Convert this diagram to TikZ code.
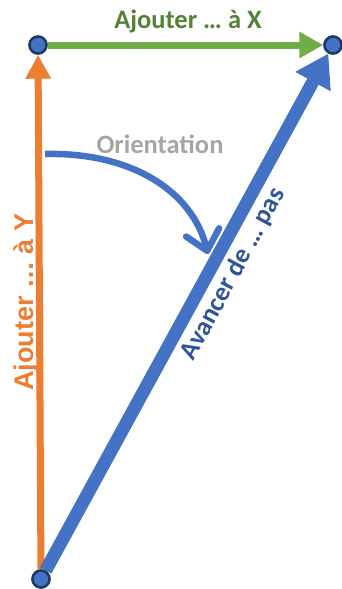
\documentclass[tikz,border=0pt]{standalone}
\usepackage{fontspec}
\setmainfont{Carlito}
\newfontfamily\arialfont{Liberation Sans}
\usetikzlibrary{arrows.meta}
\definecolor{cblue}{HTML}{4472C4}
\definecolor{cdblue}{HTML}{2F5597}
\definecolor{cnavy}{HTML}{1F3864}
\definecolor{cgreen}{HTML}{70AD47}
\definecolor{cdgreen}{HTML}{548235}
\definecolor{corange}{HTML}{ED7D31}
\definecolor{cgray}{HTML}{A5A5A5}
\tikzset{
  dot/.style={circle, fill=cblue, draw=cnavy, line width=2.4pt, minimum size=17pt, inner sep=0pt},
  lbl/.style={font=\fontsize{26.5}{30}\selectfont\bfseries, inner sep=0pt, anchor=base},
}
\begin{document}
\begin{tikzpicture}[x=1pt,y=-1pt]
\useasboundingbox (0,0) rectangle (341,589);
\node[dot] (A) at (41,579) {};
\node[dot] (B) at (38,45) {};
\node[dot] (C) at (333,45) {};
\coordinate (o1) at (45,154);
\coordinate (o2) at (208,254);
% lines
\draw[corange, line width=7pt, -{Triangle[length=24pt,width=24pt]}] (A) -- (B);
\draw[cgreen, line width=7pt, -{Triangle[length=24pt,width=25pt]}] (B) -- (C);
\draw[cblue, line width=13pt, -{Triangle[length=32pt,width=38pt]}] (A) -- (C);
\draw[cblue, line width=6.5pt, line cap=butt, -{Straight Barb[length=19pt,width=34pt,round]}] (o1) .. controls (130,152) and (192,190) .. (o2);
% dots on top
\node[dot] at (A) {};
\node[dot] at (B) {};
\node[dot] at (C) {};
% labels
\node[lbl, text=cdgreen] (tx) at (188,28) {Ajouter … à X};
\node[lbl, text=cgray] (to) at (160,153) {Orientation};
\node[lbl, text=cdblue, rotate=61.5, font=\fontsize{26.5}{30}\selectfont\bfseries] (ta) at (239.5,277.5) {Avancer de … pas};
\node[lbl, text=corange, rotate=90, font=\fontsize{27}{30}\selectfont\bfseries\arialfont] (ty) at (33,302) {Ajouter … à Y};
\end{tikzpicture}
\end{document}
